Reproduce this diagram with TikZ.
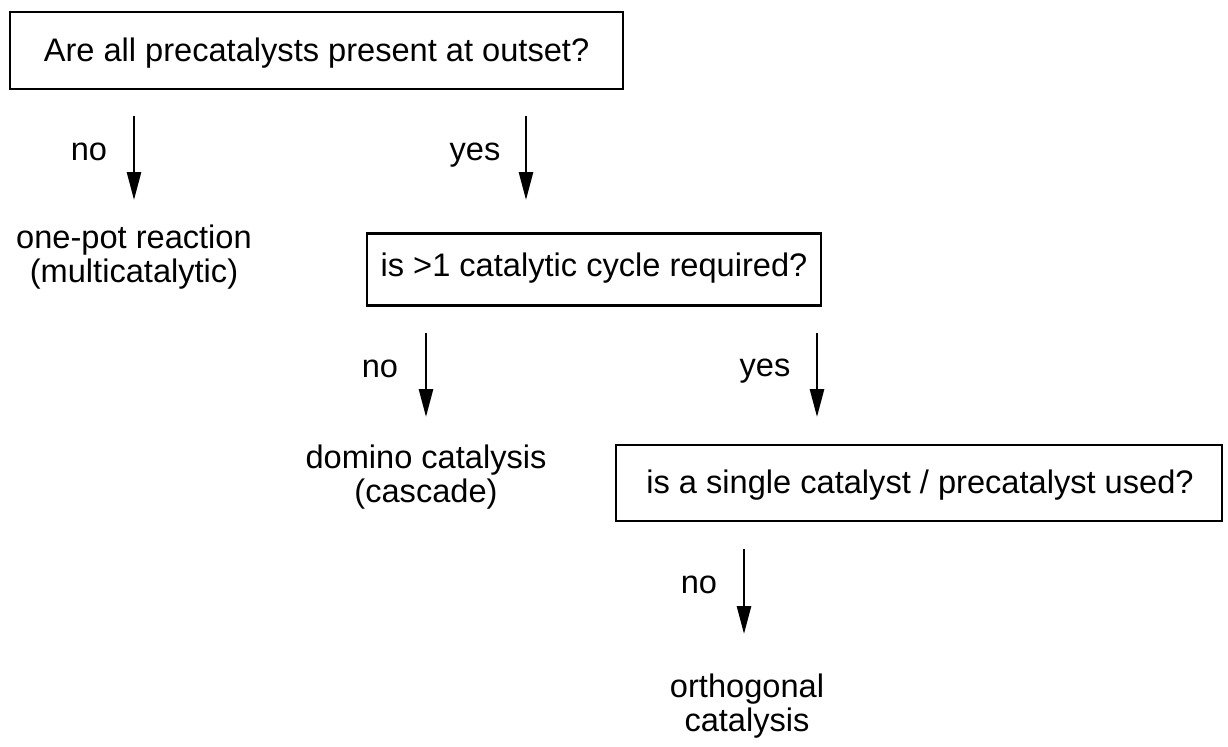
\documentclass[tikz,border=0pt]{standalone}
\usepackage{fontspec}
\setmainfont{Liberation Sans}
\usetikzlibrary{arrows.meta}
\begin{document}
\begin{tikzpicture}[x=0.5pt,y=-0.5pt,
  txt/.style={font=\fontsize{16.3}{17}\selectfont, inner sep=0pt, align=center, anchor=base},
  qbox/.style={draw, line width=1.3pt, rectangle, inner sep=0pt},
  flow/.style={line width=1.35pt, -{Triangle[length=14pt,width=7pt]}}]
\useasboundingbox (0,0) rectangle (1228,746);

% question boxes
\node[qbox, minimum width=306.5pt, minimum height=38.5pt] (q1) at (316.5,50.5) {};
\node[txt] (q1t) at (316.5,61) {Are all precatalysts present at outset?};
\node[qbox, minimum width=227pt, minimum height=36pt] (q2) at (594,269.5) {};
\node[txt] (q2t) at (594,276) {is >1 catalytic cycle required?};
\node[qbox, minimum width=303pt, minimum height=38pt] (q3) at (919,483) {};
\node[txt] (q3t) at (920,493) {is a single catalyst / precatalyst used?};

% outcomes (anchored on the baseline of their last line)
\node[txt] (o1) at (134,282) {one-pot reaction\\(multicatalytic)};
\node[txt] (o2) at (426,502) {domino catalysis\\(cascade)};
\node[txt] (o3) at (747,731) {orthogonal\\catalysis};

% arrow ends
\coordinate (a1s) at (134,116); \coordinate (a1e) at (134,200);
\coordinate (a2s) at (526,116); \coordinate (a2e) at (526,200);
\coordinate (a3s) at (426,333); \coordinate (a3e) at (426,417);
\coordinate (a4s) at (817,333); \coordinate (a4e) at (817,417);
\coordinate (a5s) at (744,549); \coordinate (a5e) at (744,634);

\draw[flow] (a1s) -- (a1e);
\draw[flow] (a2s) -- (a2e);
\draw[flow] (a3s) -- (a3e);
\draw[flow] (a4s) -- (a4e);
\draw[flow] (a5s) -- (a5e);

% branch labels
\node[txt] (l1) at (89,160) {no};
\node[txt] (l2) at (475,160) {yes};
\node[txt] (l3) at (380,377) {no};
\node[txt] (l4) at (765,376) {yes};
\node[txt] (l5) at (699,593) {no};
\end{tikzpicture}
\end{document}
